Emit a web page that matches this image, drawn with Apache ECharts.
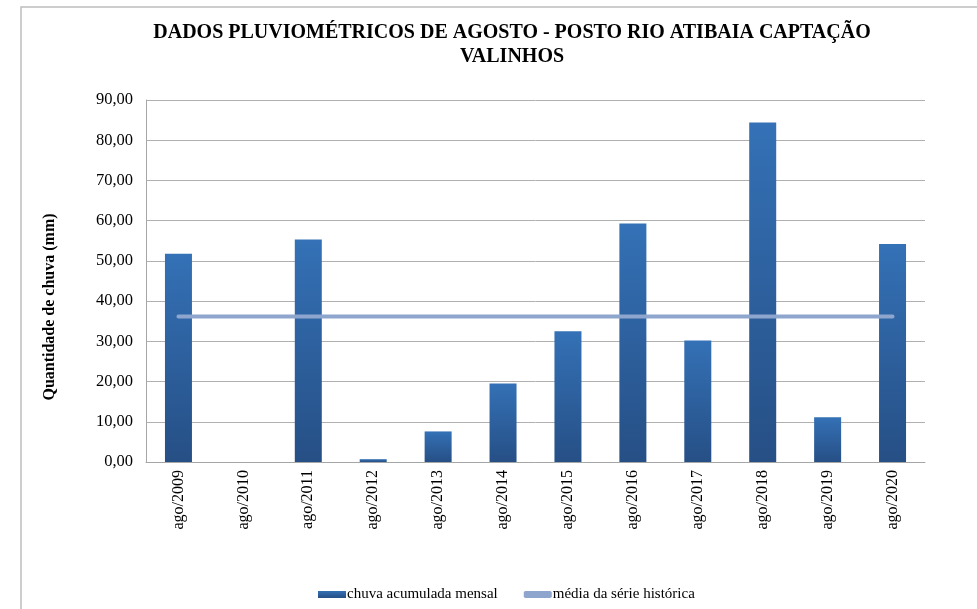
<!DOCTYPE html>
<html>
<head>
<meta charset="utf-8">
<script src="https://cdn.jsdelivr.net/npm/echarts@6/dist/echarts.min.js"></script>
<style>
  html, body { margin: 0; padding: 0; background: #fff; }
  #main { width: 977px; height: 609px; }
</style>
</head>
<body>
<div id="main"></div>
<script>
var meses = ["ago/2009","ago/2010","ago/2011","ago/2012","ago/2013","ago/2014","ago/2015","ago/2016","ago/2017","ago/2018","ago/2019","ago/2020"];
var chuva = [51.8, 0, 55.3, 0.7, 7.6, 19.5, 32.5, 59.3, 30.2, 84.4, 11.1, 54.2];
var media = [36.2, 36.2, 36.2, 36.2, 36.2, 36.2, 36.2, 36.2, 36.2, 36.2, 36.2, 36.2];

var fonte = "'Liberation Serif', 'Times New Roman', serif";

var chartDom = document.getElementById('main');
var myChart = echarts.init(chartDom);
var option;

option = {
  animation: false,
  textStyle: { fontFamily: fonte },
  title: {
    text: "DADOS PLUVIOMÉTRICOS DE AGOSTO - POSTO RIO ATIBAIA CAPTAÇÃO\nVALINHOS",
    left: 507,
    top: 16,
    textAlign: 'center',
    textStyle: {
      fontFamily: fonte,
      fontSize: 20,
      fontWeight: 'bold',
      color: '#000',
      lineHeight: 24
    }
  },
  graphic: [{
    type: 'rect',
    shape: { x: 21, y: 7, width: 1000, height: 700 },
    style: { fill: 'none', stroke: '#bdbdbd', lineWidth: 1.5 },
    silent: true
  }, {
    // nome do eixo Y (deslocado para baixo como no original)
    type: 'text',
    x: 50,
    y: 307,
    rotation: Math.PI / 2,
    style: {
      text: 'Quantidade de chuva (mm)',
      fontFamily: fonte,
      fontSize: 16,
      fontWeight: 'bold',
      fill: '#000',
      align: 'center',
      verticalAlign: 'middle'
    },
    silent: true
  }],
  grid: {
    left: 146,
    right: 52,
    top: 100,
    bottom: 147
  },
  legend: {
    top: 582,
    left: 313,
    itemGap: 26,
    itemWidth: 28,
    itemHeight: 7,
    textStyle: { fontFamily: fonte, fontSize: 15, color: '#000', padding: [0, 0, 0, -4] },
    data: [
      { name: 'chuva acumulada mensal', icon: 'rect' },
      { name: 'média da série histórica', icon: 'roundRect' }
    ]
  },
  xAxis: {
    type: 'category',
    data: meses,
    boundaryGap: true,
    axisLine: { lineStyle: { color: '#a6a6a6', width: 1 } },
    axisTick: { show: false },
    axisLabel: {
      rotate: 90,
      interval: 0,
      margin: 8,
      fontFamily: fonte,
      fontSize: 16,
      color: '#000'
    }
  },
  yAxis: {
    type: 'value',
    min: 0,
    max: 90,
    interval: 10,
    axisLine: { show: true, lineStyle: { color: '#a6a6a6', width: 1 } },
    axisTick: { show: false },
    splitLine: { lineStyle: { color: '#b0b0b0', width: 1 } },
    axisLabel: {
      fontFamily: fonte,
      fontSize: 16.5,
      color: '#000',
      margin: 13,
      formatter: function (v) { return v.toFixed(2).replace('.', ','); }
    }
  },
  series: [
    {
      name: 'chuva acumulada mensal',
      type: 'bar',
      data: chuva,
      barWidth: 27,
      itemStyle: {
        color: new echarts.graphic.LinearGradient(0, 0, 0, 1, [
          { offset: 0, color: '#3471b6' },
          { offset: 1, color: '#264f85' }
        ])
      }
    },
    {
      name: 'média da série histórica',
      type: 'line',
      data: media,
      symbol: 'none',
      lineStyle: { color: '#8ea6ce', width: 4, cap: 'round' },
      itemStyle: { color: '#8ea6ce' }
    }
  ]
};

option && myChart.setOption(option);
window.addEventListener("resize", function() {
    myChart.resize();
  });
</script>
</body>
</html>
